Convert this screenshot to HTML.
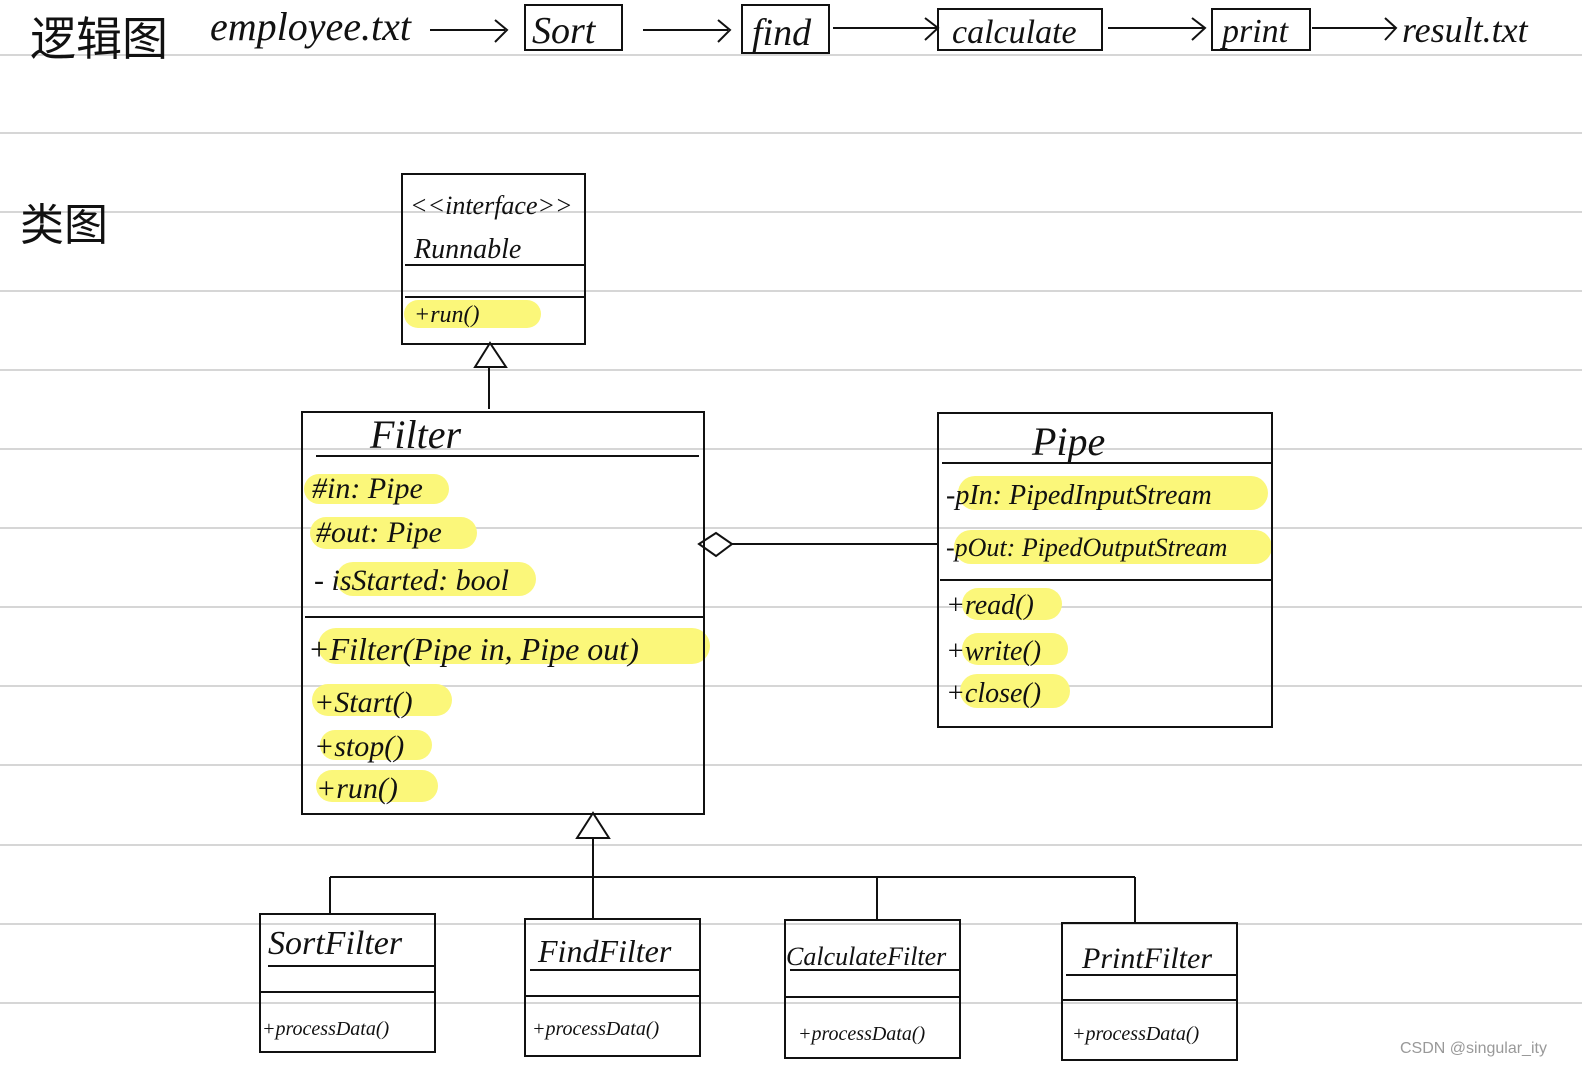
<!DOCTYPE html>
<html><head><meta charset="utf-8"><style>
html,body{margin:0;padding:0;background:#fff;}
svg{display:block}
text{font-family:"Liberation Serif","Noto Sans CJK SC",serif;font-style:italic;fill:#111}
</style></head><body>
<svg width="1582" height="1076" viewBox="0 0 1582 1076" xmlns="http://www.w3.org/2000/svg">
<g stroke="#d6d6d6" stroke-width="2">
<line x1="0" y1="55" x2="1582" y2="55"/><line x1="0" y1="133" x2="1582" y2="133"/>
<line x1="0" y1="212" x2="1582" y2="212"/><line x1="0" y1="291" x2="1582" y2="291"/>
<line x1="0" y1="370" x2="1582" y2="370"/><line x1="0" y1="449" x2="1582" y2="449"/>
<line x1="0" y1="528" x2="1582" y2="528"/><line x1="0" y1="607" x2="1582" y2="607"/>
<line x1="0" y1="686" x2="1582" y2="686"/><line x1="0" y1="765" x2="1582" y2="765"/>
<line x1="0" y1="845" x2="1582" y2="845"/><line x1="0" y1="924" x2="1582" y2="924"/>
<line x1="0" y1="1003" x2="1582" y2="1003"/>
</g>
<!-- highlights -->
<g fill="#fbf77a">
<rect x="404" y="300" width="137" height="28" rx="14"/>
<rect x="304" y="474" width="145" height="30" rx="15"/>
<rect x="310" y="517" width="167" height="32" rx="16"/>
<rect x="336" y="562" width="200" height="34" rx="17"/>
<rect x="318" y="628" width="392" height="36" rx="18"/>
<rect x="312" y="684" width="140" height="32" rx="16"/>
<rect x="320" y="730" width="112" height="30" rx="15"/>
<rect x="316" y="770" width="122" height="32" rx="16"/>
<rect x="958" y="476" width="310" height="34" rx="17"/>
<rect x="954" y="530" width="318" height="34" rx="17"/>
<rect x="962" y="588" width="100" height="32" rx="16"/>
<rect x="962" y="633" width="106" height="32" rx="16"/>
<rect x="960" y="674" width="110" height="34" rx="17"/>
</g>
<g fill="none" stroke="#111" stroke-width="2">
<rect x="525" y="5" width="97" height="45"/><rect x="742" y="5" width="87" height="48"/>
<rect x="938" y="9" width="164" height="41"/><rect x="1212" y="9" width="98" height="41"/>
<path d="M430 30H505M495 20L507 30L495 42"/><path d="M643 30H728M718 20L730 30L718 42"/>
<path d="M833 28H937M925 18L938 28L925 40"/><path d="M1108 28H1204M1192 18L1205 28L1192 40"/>
<path d="M1312 28H1395M1385 18L1396 28L1385 40"/>
<rect x="402" y="174" width="183" height="170"/><path d="M405 265H585M405 297H585"/>
<path d="M490 343L475 367H506Z M489 367V409"/>
<rect x="302" y="412" width="402" height="402"/><path d="M316 456H699M305 617H704"/>
<rect x="938" y="413" width="334" height="314"/><path d="M942 463H1272M940 580H1272"/>
<path d="M699 544L716 533L732 544L716 556Z M732 544H938"/>
<path d="M593 813L577 838H609Z M593 838V918M330 877H1135M330 877V914M877 877V920M1135 877V922"/>
<rect x="260" y="914" width="175" height="138"/><path d="M268 966H435M260 992H435"/>
<rect x="525" y="919" width="175" height="137"/><path d="M530 970H700M525 996H700"/>
<rect x="785" y="920" width="175" height="138"/><path d="M790 970H960M785 997H960"/>
<rect x="1062" y="923" width="175" height="137"/><path d="M1066 975H1237M1062 1000H1237"/>
</g>
<text x="30" y="55" font-size="46" style="font-style:normal">逻辑图</text>
<text x="20" y="240" font-size="44" style="font-style:normal">类图</text>
<text x="210" y="40" font-size="40">employee.txt</text>
<text x="532" y="43" font-size="38">Sort</text>
<text x="752" y="45" font-size="38">find</text>
<text x="952" y="43" font-size="34">calculate</text>
<text x="1222" y="42" font-size="34">print</text>
<text x="1402" y="42" font-size="36">result.txt</text>
<text x="410" y="214" font-size="26">&lt;&lt;interface&gt;&gt;</text>
<text x="414" y="258" font-size="28">Runnable</text>
<text x="414" y="322" font-size="24">+run()</text>
<text x="370" y="448" font-size="40">Filter</text>
<text x="312" y="498" font-size="30">#in: Pipe</text>
<text x="316" y="542" font-size="30">#out: Pipe</text>
<text x="314" y="590" font-size="30">- isStarted: bool</text>
<text x="308" y="660" font-size="32">+Filter(Pipe in, Pipe out)</text>
<text x="314" y="712" font-size="30">+Start()</text>
<text x="314" y="756" font-size="30">+stop()</text>
<text x="316" y="798" font-size="30">+run()</text>
<text x="1032" y="455" font-size="40">Pipe</text>
<text x="946" y="504" font-size="28">-pIn: PipedInputStream</text>
<text x="946" y="556" font-size="26">-pOut: PipedOutputStream</text>
<text x="946" y="614" font-size="28">+read()</text>
<text x="946" y="660" font-size="28">+write()</text>
<text x="946" y="702" font-size="28">+close()</text>
<text x="268" y="954" font-size="34">SortFilter</text>
<text x="262" y="1035" font-size="20">+processData()</text>
<text x="538" y="962" font-size="32">FindFilter</text>
<text x="532" y="1035" font-size="20">+processData()</text>
<text x="786" y="965" font-size="26">CalculateFilter</text>
<text x="798" y="1040" font-size="20">+processData()</text>
<text x="1082" y="968" font-size="30">PrintFilter</text>
<text x="1072" y="1040" font-size="20">+processData()</text>
<text x="1400" y="1053" font-size="16" style="font-style:normal;font-family:'Liberation Sans',sans-serif;fill:#999">CSDN @singular_ity</text>
</svg>
</body></html>
